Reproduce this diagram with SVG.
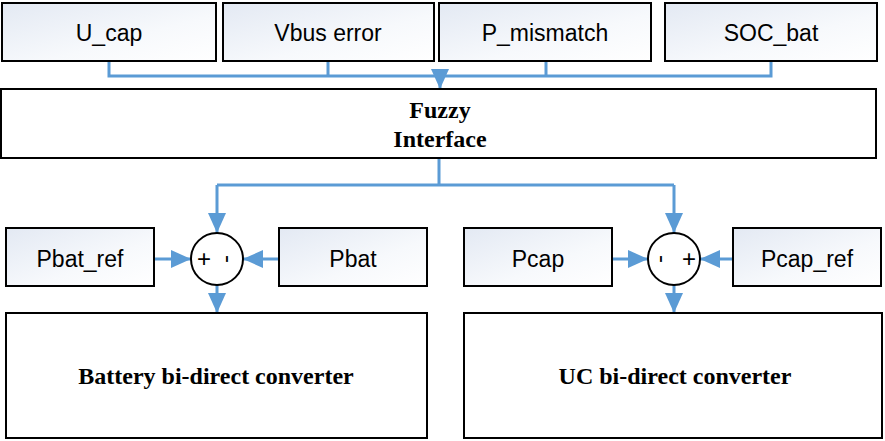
<svg xmlns="http://www.w3.org/2000/svg" width="885" height="441" viewBox="0 0 885 441">
<defs>
<linearGradient id="g" x1="0" y1="0" x2="1" y2="1">
<stop offset="0" stop-color="#e3e9f3"/>
<stop offset="0.6" stop-color="#f7f9fc"/>
<stop offset="1" stop-color="#ffffff"/>
</linearGradient>
<marker id="ah" markerUnits="userSpaceOnUse" viewBox="0 0 20 20" markerWidth="20" markerHeight="20" refX="20" refY="10" orient="auto">
<path d="M0,1 L20,10 L0,19 Z" fill="#5b9bd5"/>
</marker>
</defs>
<style>
.in{fill:url(#g);stroke:#000;stroke-width:2}
.bx{fill:#fff;stroke:#000;stroke-width:2}
.sum{fill:#fff;stroke:#000;stroke-width:2}
.t{font-family:"Liberation Sans",Arial,sans-serif;font-size:23px;fill:#000;text-anchor:middle}
.b{font-family:"Liberation Serif","Times New Roman",serif;font-weight:bold;font-size:24px;fill:#000;text-anchor:middle}
.s{font-family:"Liberation Sans",Arial,sans-serif;font-size:24px;fill:#000;text-anchor:middle}
.c{fill:none;stroke:#5b9bd5;stroke-width:3}
.a{fill:none;stroke:#5b9bd5;stroke-width:3;marker-end:url(#ah)}
</style>
<rect width="885" height="441" fill="#fff"/>
<g id="connectors">
<path class="c" d="M109,61 V76 H771 V61 M328,61 V76 M546,61 V76"/>
<path class="a" d="M440,70 V89"/>
<path class="c" d="M439,158 V185 M217,185 H674"/>
<path class="a" d="M217,185 V233"/>
<path class="a" d="M674,185 V233"/>
<path class="a" d="M154,259 H191"/>
<path class="a" d="M279,259 H243"/>
<path class="a" d="M217,285 V313"/>
<path class="a" d="M612,259 H648"/>
<path class="a" d="M733,259 H700"/>
<path class="a" d="M674,285 V313"/>
</g>
<g id="ucap"><rect class="in" x="2" y="3" width="214" height="58"/><text class="t" x="109" y="41">U_cap</text></g>
<g id="vbus"><rect class="in" x="223" y="3" width="211" height="58"/><text class="t" x="328" y="41">Vbus error</text></g>
<g id="pmis"><rect class="in" x="439" y="3" width="212" height="58"/><text class="t" x="545" y="41">P_mismatch</text></g>
<g id="socbat"><rect class="in" x="665" y="3" width="212" height="58"/><text class="t" x="771" y="41">SOC_bat</text></g>
<g id="fuzzy"><rect class="bx" x="1" y="89" width="875" height="69"/><text class="b" x="440" y="118">Fuzzy</text><text class="b" x="440" y="147">Interface</text></g>
<g id="pbatref"><rect class="in" x="6" y="228" width="148" height="58"/><text class="t" x="80" y="267">Pbat_ref</text></g>
<g id="sum1"><circle class="sum" cx="217" cy="259" r="26"/><text class="s" x="204" y="267">+</text><text class="s" x="229" y="267" transform="rotate(90 229 259)">-</text></g>
<g id="pbat"><rect class="in" x="279" y="228" width="148" height="58"/><text class="t" x="353" y="267">Pbat</text></g>
<g id="pcap"><rect class="in" x="464" y="228" width="148" height="58"/><text class="t" x="538" y="267">Pcap</text></g>
<g id="sum2"><circle class="sum" cx="674" cy="259" r="26"/><text class="s" x="663" y="267" transform="rotate(90 663 259)">-</text><text class="s" x="689" y="267">+</text></g>
<g id="pcapref"><rect class="in" x="733" y="228" width="148" height="58"/><text class="t" x="807" y="267">Pcap_ref</text></g>
<g id="battery"><rect class="bx" x="6" y="313" width="421" height="125"/><text class="b" x="216" y="384">Battery bi-direct converter</text></g>
<g id="uc"><rect class="bx" x="464" y="313" width="418" height="125"/><text class="b" x="675" y="384">UC bi-direct converter</text></g>
</svg>
